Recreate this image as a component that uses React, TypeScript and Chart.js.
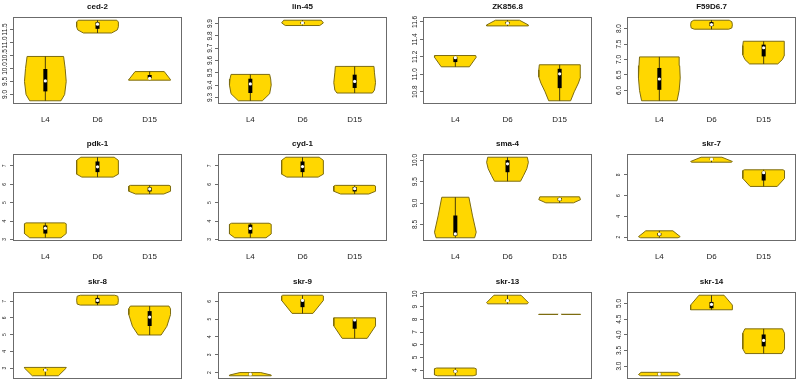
import React, { useEffect, useRef } from "react";
import { Chart, registerables } from "chart.js";

Chart.register(...registerables);

// ---------------- DATA ----------------
const categories = ["L4", "D6", "D15"];
const geneNames = [
  "ced-2", "lin-45", "ZK856.8", "F59D6.7",
  "pdk-1", "cyd-1", "sma-4", "skr-7",
  "skr-8", "skr-9", "skr-13", "skr-14",
];

// Violin outlines: [value, half-width in category units], bottom to top
// Boxes: [q1, median, q3]
const ced2Shapes = [
  [[8.76, 0.30], [9.0, 0.37], [9.5, 0.40], [10.0, 0.38], [10.46, 0.35]],
  [[11.36, 0.27], [11.48, 0.38], [11.6, 0.40], [11.78, 0.40], [11.85, 0.37]],
  [[9.55, 0.40], [9.57, 0.40], [9.88, 0.28]],
];
const ced2Boxes = [[9.12, 9.52, 9.98], [11.52, 11.70, 11.77], [9.61, 9.62, 9.75]];
const ced2TickLabels = ["9.0", "9.5", "10.0", "10.5", "11.0", "11.5"];

const lin45Shapes = [
  [[9.273, 0.23], [9.33, 0.37], [9.40, 0.40], [9.45, 0.39], [9.487, 0.37]],
  [[9.884, 0.33], [9.905, 0.40], [9.927, 0.36]],
  [[9.336, 0.34], [9.36, 0.38], [9.42, 0.40], [9.50, 0.38], [9.552, 0.37]],
];
const lin45Boxes = [[9.336, 9.41, 9.452], [9.898, 9.905, 9.912], [9.377, 9.43, 9.485]];
const lin45TickLabels = ["9.3", "9.4", "9.5", "9.6", "9.7", "9.8", "9.9"];

const zk8568Shapes = [
  [[11.086, 0.27], [11.195, 0.40], [11.215, 0.39]],
  [[11.554, 0.40], [11.565, 0.40], [11.619, 0.23]],
  [[10.697, 0.21], [10.80, 0.28], [10.90, 0.36], [10.97, 0.40], [11.05, 0.40], [11.109, 0.39]],
];
const zk8568Boxes = [[11.14, 11.19, 11.20], [11.575, 11.585, 11.60], [10.842, 11.006, 11.063]];
const zk8568TickLabels = ["10.8", "11.0", "11.2", "11.4", "11.6"];

const f59d67Shapes = [
  [[5.666, 0.34], [6.0, 0.38], [6.4, 0.40], [6.8, 0.39], [7.084, 0.38]],
  [[7.98, 0.33], [8.02, 0.39], [8.12, 0.40], [8.22, 0.39], [8.27, 0.34]],
  [[6.857, 0.27], [7.0, 0.36], [7.15, 0.40], [7.45, 0.40], [7.59, 0.39]],
];
const f59d67Boxes = [[6.02, 6.37, 6.727], [8.08, 8.13, 8.21], [7.10, 7.38, 7.48]];
const f59d67TickLabels = ["6.0", "6.5", "7.0", "7.5", "8.0"];

const pdk1Shapes = [
  [[3.09, 0.30], [3.32, 0.40], [3.85, 0.40], [3.90, 0.37]],
  [[6.39, 0.30], [6.55, 0.40], [7.30, 0.40], [7.47, 0.32]],
  [[5.47, 0.27], [5.62, 0.40], [5.90, 0.40], [5.94, 0.37]],
];
const pdk1Boxes = [[3.32, 3.61, 3.76], [6.66, 6.95, 7.24], [5.61, 5.74, 5.83]];
const pdk1TickLabels = ["3", "4", "5", "6", "7"];

const cyd1Shapes = [
  [[3.09, 0.30], [3.30, 0.40], [3.82, 0.40], [3.88, 0.36]],
  [[6.39, 0.30], [6.55, 0.40], [7.30, 0.40], [7.47, 0.32]],
  [[5.47, 0.27], [5.62, 0.40], [5.90, 0.40], [5.94, 0.37]],
];
const cyd1Boxes = [[3.32, 3.60, 3.81], [6.66, 6.96, 7.24], [5.61, 5.76, 5.85]];
const cyd1TickLabels = ["3", "4", "5", "6", "7"];

const sma4Shapes = [
  [[8.19, 0.37], [8.32, 0.40], [8.70, 0.33], [9.136, 0.26]],
  [[9.51, 0.25], [9.65, 0.31], [9.80, 0.37], [9.95, 0.40], [10.07, 0.38]],
  [[9.006, 0.265], [9.08, 0.40], [9.146, 0.38]],
];
const sma4Boxes = [[8.24, 8.28, 8.71], [9.72, 9.915, 10.0], [9.06, 9.09, 9.12]];
const sma4TickLabels = ["8.5", "9.0", "9.5", "10.0"];

const skr7Shapes = [
  [[1.94, 0.36], [2.05, 0.40], [2.61, 0.26]],
  [[9.21, 0.38], [9.28, 0.40], [9.69, 0.20]],
  [[6.88, 0.26], [7.65, 0.40], [8.40, 0.40], [8.48, 0.37]],
];
const skr7Boxes = [[2.15, 2.3, 2.4], [9.45, 9.5, 9.55], [7.45, 8.2, 8.3]];
const skr7TickLabels = ["2", "4", "6", "8"];

const skr8Shapes = [
  [[2.54, 0.25], [3.0, 0.40], [3.04, 0.40]],
  [[6.77, 0.33], [6.83, 0.39], [7.06, 0.40], [7.30, 0.39], [7.36, 0.33]],
  [[4.98, 0.22], [5.5, 0.33], [6.2, 0.40], [6.55, 0.40], [6.71, 0.37]],
];
const skr8Boxes = [[2.85, 2.88, 2.95], [6.88, 7.05, 7.2], [5.52, 6.05, 6.41]];
const skr8TickLabels = ["3", "4", "5", "6", "7"];

const skr9Shapes = [
  [[1.82, 0.40], [1.86, 0.40], [2.0, 0.20]],
  [[5.32, 0.20], [6.05, 0.40], [6.30, 0.40], [6.34, 0.38]],
  [[3.92, 0.24], [4.62, 0.40], [5.07, 0.40]],
];
const skr9Boxes = [[1.88, 1.91, 1.94], [5.67, 6.05, 6.1], [4.46, 4.95, 4.98]];
const skr9TickLabels = ["2", "3", "4", "5", "6"];

const skr13Shapes = [
  [[3.55, 0.34], [3.62, 0.40], [4.10, 0.40], [4.16, 0.36]],
  [[9.22, 0.38], [9.32, 0.40], [9.90, 0.26]],
  [[8.38, 0.40], [8.40, 0.40]],
];
const skr13Boxes = [[3.82, 3.9, 3.98], [9.42, 9.47, 9.55], [8.39, 8.39, 8.39]];
const skr13TickLabels = ["4", "5", "6", "7", "8", "9", "10"];

const skr14Shapes = [
  [[2.69, 0.36], [2.73, 0.40], [2.80, 0.35]],
  [[4.80, 0.40], [4.95, 0.40], [5.265, 0.24]],
  [[3.40, 0.35], [3.55, 0.40], [4.05, 0.40], [4.19, 0.36]],
];
const skr14Boxes = [[2.73, 2.745, 2.76], [4.85, 4.97, 5.05], [3.63, 3.82, 4.01]];
const skr14TickLabels = ["3.0", "3.5", "4.0", "4.5", "5.0"];

const allShapes = [ced2Shapes, lin45Shapes, zk8568Shapes, f59d67Shapes, pdk1Shapes, cyd1Shapes, sma4Shapes, skr7Shapes, skr8Shapes, skr9Shapes, skr13Shapes, skr14Shapes];
const allBoxes = [ced2Boxes, lin45Boxes, zk8568Boxes, f59d67Boxes, pdk1Boxes, cyd1Boxes, sma4Boxes, skr7Boxes, skr8Boxes, skr9Boxes, skr13Boxes, skr14Boxes];
const allTickLabels = [ced2TickLabels, lin45TickLabels, zk8568TickLabels, f59d67TickLabels, pdk1TickLabels, cyd1TickLabels, sma4TickLabels, skr7TickLabels, skr8TickLabels, skr9TickLabels, skr13TickLabels, skr14TickLabels];

// ---------------- STYLE / LAYOUT ----------------
const COL_LEFT = [13, 218, 423, 627];
const ROW_TOP = [17, 154, 292];
const BOX_W = 172;
const BOX_H = 87;
const PAD_L = 13;
const PAD_T = 17;
const PAD_B = 18;
const PAD_R = 1;
const YLABEL_SIZE = [6.5, 6.5, 6.5, 6.5, 5, 5, 6.5, 5, 5, 5, 6.5, 6.5];
const FONT = '"Liberation Sans", Arial, Helvetica, sans-serif';
const VIOLIN_FILL = "#FFD700";
const VIOLIN_EDGE = "#7d6c10";
const WHISKER = "#4a3f08";

const framePlugin = {
  id: "rFrame",
  afterDraw(chart: any, _args: any, opts: any) {
    const { ctx, chartArea: a, scales } = chart;
    ctx.save();
    ctx.strokeStyle = "#6b6b6b";
    ctx.lineWidth = 1;
    ctx.strokeRect(Math.round(a.left) + 0.5, Math.round(a.top) + 0.5, Math.round(a.right - a.left) - 1, Math.round(a.bottom - a.top) - 1);
    const y = scales.y;
    ctx.fillStyle = "#222";
    ctx.font = `${opts.size}px ${FONT}`;
    ctx.textAlign = "center";
    ctx.textBaseline = "middle";
    (opts.labels as string[]).forEach((lab) => {
      const py = y.getPixelForValue(parseFloat(lab));
      ctx.save();
      ctx.translate(a.left - 8, py);
      ctx.rotate(-Math.PI / 2);
      ctx.fillText(lab, 0, 0);
      ctx.restore();
    });
    ctx.restore();
  },
};

function buildDatasets(shapes: number[][][], boxes: number[][]) {
  const ds: any[] = [];
  shapes.forEach((shape, i) => {
    const c = i + 1;
    const right = shape.map(([v, w]) => ({ x: c + w, y: v }));
    const left = shape.slice().reverse().map(([v, w]) => ({ x: c - w, y: v }));
    // lower `order` is drawn on top
    ds.push({
      order: 4,
      data: [...right, ...left, right[0]],
      fill: "shape",
      backgroundColor: VIOLIN_FILL,
      borderColor: VIOLIN_EDGE,
      borderWidth: 1,
      pointRadius: 0,
      tension: 0,
    });
    const lo = shape[0][0];
    const hi = shape[shape.length - 1][0];
    ds.push({
      order: 3,
      data: [{ x: c, y: lo }, { x: c, y: hi }],
      borderColor: WHISKER,
      borderWidth: 1,
      pointRadius: 0,
      fill: false,
    });
    const [q1, med, q3] = boxes[i];
    ds.push({
      order: 2,
      data: [{ x: c, y: q1 }, { x: c, y: q3 }],
      borderColor: "#000",
      borderWidth: 4,
      borderCapStyle: "butt",
      pointRadius: 0,
      fill: false,
    });
    ds.push({
      order: 1,
      data: [{ x: c, y: med }],
      showLine: false,
      pointRadius: 1.6,
      pointBackgroundColor: "#fff",
      pointBorderWidth: 0,
      pointBorderColor: "#fff",
      fill: false,
    });
  });
  return ds;
}

function Panel({ index }: { index: number }) {
  const ref = useRef<HTMLCanvasElement>(null);
  const col = index % 4;
  const row = Math.floor(index / 4);
  const width = PAD_L + BOX_W + PAD_R;
  const height = PAD_T + BOX_H + PAD_B;

  useEffect(() => {
    const shapes = allShapes[index];
    const boxes = allBoxes[index];
    const tickLabels = allTickLabels[index];
    let lo = Infinity;
    let hi = -Infinity;
    shapes.forEach((s) => {
      lo = Math.min(lo, s[0][0]);
      hi = Math.max(hi, s[s.length - 1][0]);
    });
    const span = hi - lo;
    const chart = new Chart(ref.current as HTMLCanvasElement, {
      type: "line",
      data: { datasets: buildDatasets(shapes, boxes) },
      plugins: [framePlugin as any],
      options: {
        animation: false,
        responsive: false,
        events: [],
        layout: { padding: { left: 0, right: PAD_R, top: 0, bottom: 0 } },
        plugins: {
          legend: { display: false },
          tooltip: { enabled: false },
          title: {
            display: true,
            text: geneNames[index],
            fullSize: false,
            color: "#111",
            font: { family: FONT, size: 8, weight: "bold", lineHeight: 1.2 },
            padding: { top: 1.5, bottom: 5.9 },
          },
          rFrame: { labels: tickLabels, size: YLABEL_SIZE[index] },
        } as any,
        scales: {
          x: {
            type: "linear",
            min: 0.38,
            max: 3.62,
            grid: { display: false },
            border: { display: false },
            afterBuildTicks: (s: any) => {
              s.ticks = categories.map((_, i) => ({ value: i + 1 }));
            },
            afterFit: (s: any) => {
              s.height = PAD_B;
            },
            ticks: {
              autoSkip: false,
              maxRotation: 0,
              minRotation: 0,
              padding: 3,
              color: "#222",
              font: { family: FONT, size: 8 },
              callback: (v: any) => categories[Math.round(Number(v)) - 1] ?? "",
            },
          },
          y: {
            type: "linear",
            min: lo - 0.04 * span,
            max: hi + 0.04 * span,
            border: { display: false },
            grid: { display: true, drawOnChartArea: false, drawTicks: true, tickLength: 3, color: "#6b6b6b" },
            afterBuildTicks: (s: any) => {
              s.ticks = tickLabels.map((t) => ({ value: parseFloat(t) }));
            },
            afterFit: (s: any) => {
              s.width = PAD_L;
            },
            ticks: { display: false },
          },
        },
      } as any,
    });
    return () => chart.destroy();
  }, [index]);

  return (
    <canvas
      ref={ref}
      width={width}
      height={height}
      style={{ position: "absolute", left: COL_LEFT[col] - PAD_L, top: ROW_TOP[row] - PAD_T, width, height }}
    />
  );
}

export default function App() {
  return (
    <div style={{ position: "absolute", left: 0, top: 0, width: 800, height: 392, overflow: "hidden", background: "#fff" }}>
      {geneNames.map((_, i) => (
        <Panel key={i} index={i} />
      ))}
    </div>
  );
}
